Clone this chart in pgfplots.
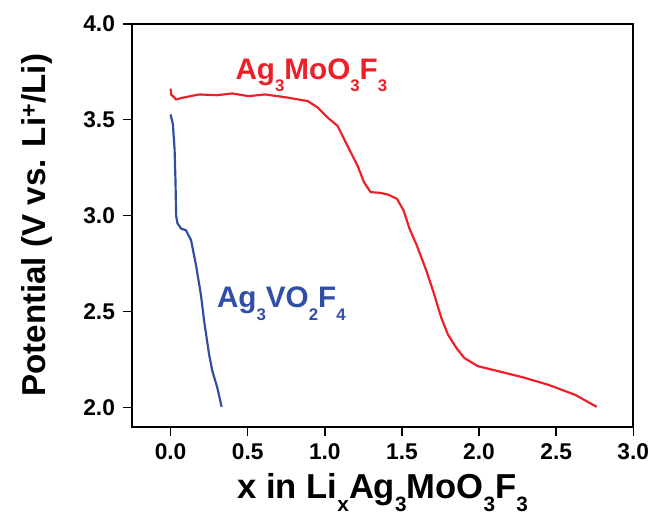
\documentclass[border=0pt]{standalone}
\usepackage{pgfplots}
\pgfplotsset{compat=1.18}
\usepackage{fontspec}
\setmainfont{Liberation Sans}
\definecolor{cred}{RGB}{236,32,40}
\definecolor{cblue}{RGB}{48,78,165}
\newcommand{\sub}[1]{\raisebox{-0.42em}{\fontsize{17}{18}\selectfont #1}}
\newcommand{\subx}[1]{\raisebox{-0.40em}{\fontsize{21}{22}\selectfont #1}}
\begin{document}
\fontsize{24}{28}\selectfont\bfseries
\begin{tikzpicture}
\pgfplotsset{myax/.style={
  scale only axis, width=505bp, height=406bp,
  xmin=-0.25, xmax=3.0, ymin=1.9, ymax=4.0,
  axis line style={line width=1.6pt},
  tick style={line width=1.4pt, black},
  /pgf/number format/assume math mode=true,
  /pgf/number format/fixed, /pgf/number format/fixed zerofill,
  /pgf/number format/precision=1,
},
majt/.style={
  xtick=\empty, ytick=\empty,
  minor xtick={0,0.5,1,1.5,2,2.5,3}, minor ytick={2,2.5,3,3.5,4},
  minor tick length=9bp,
},
mint/.style={
  xtick=\empty, ytick=\empty,
  minor xtick={-0.25,0.25,0.75,1.25,1.75,2.25,2.75},
  minor ytick={2.25,2.75,3.25,3.75},
  minor tick length=5bp,
}}
\begin{axis}[myax, name=ax,
  xtick={0,0.5,1,1.5,2,2.5,3}, ytick={2,2.5,3,3.5,4},
  major tick length=9bp,
  tick align=outside, xtick pos=left, ytick pos=left,
  ticklabel style={font=\fontsize{23}{26}\selectfont\bfseries},
  xlabel={x in Li\subx{x}Ag\subx{3}MoO\subx{3}F\subx{3}},
  ylabel={Potential (V vs. Li\textsuperscript{+}/Li)},
  label style={font=\fontsize{33.5}{36}\selectfont\bfseries},
  xlabel style={font=\fontsize{35}{38}\selectfont\bfseries, yshift=3bp},
  ylabel style={yshift=15bp},
]
\addplot[cred, line width=2.2pt] coordinates {
(0.000,3.662) (0.004,3.632) (0.036,3.606) (0.079,3.615) (0.186,3.632)
(0.300,3.628) (0.400,3.637) (0.506,3.623) (0.613,3.632) (0.763,3.615)
(0.891,3.597) (0.955,3.563) (1.019,3.511) (1.083,3.468) (1.147,3.364)
(1.212,3.261) (1.254,3.175) (1.297,3.123) (1.361,3.119) (1.410,3.110)
(1.468,3.088) (1.511,3.027) (1.549,2.933) (1.596,2.846) (1.660,2.710)
(1.703,2.606) (1.756,2.466) (1.799,2.380) (1.853,2.311) (1.904,2.259)
(1.992,2.216) (2.109,2.193) (2.280,2.159) (2.449,2.119) (2.622,2.067)
(2.763,2.004)
};
\addplot[cblue, line width=2.2pt] coordinates {
(0.000,3.528) (0.015,3.477) (0.026,3.347) (0.032,3.176) (0.036,3.000)
(0.045,2.960) (0.058,2.945) (0.068,2.933) (0.100,2.924) (0.133,2.872)
(0.165,2.742) (0.197,2.587) (0.218,2.449) (0.250,2.276) (0.271,2.190)
(0.303,2.104) (0.331,2.004)
};
\node[cred, anchor=base west, inner sep=0pt, font=\fontsize{30}{32}\selectfont\bfseries]
  at (axis cs:0.42,3.71) {Ag\sub{3}MoO\sub{3}F\sub{3}};
\node[cblue, anchor=base west, inner sep=0pt, font=\fontsize{30}{32}\selectfont\bfseries]
  at (axis cs:0.30,2.52) {Ag\sub{3}VO\sub{2}F\sub{4}};
\end{axis}
\begin{axis}[myax, majt, tick align=outside, xtick pos=left, ytick pos=left]
\end{axis}
\begin{axis}[myax, mint, tick align=outside, xtick pos=left, ytick pos=left]
\end{axis}
\begin{axis}[myax, majt, tick align=inside, xtick pos=right, ytick pos=right]
\end{axis}
\begin{axis}[myax, mint, tick align=inside, xtick pos=right, ytick pos=right]
\end{axis}
\path (ax.south west) ++(-133bp,-88bp);
\path (ax.north east) ++(19bp,24bp);
\end{tikzpicture}
\end{document}
